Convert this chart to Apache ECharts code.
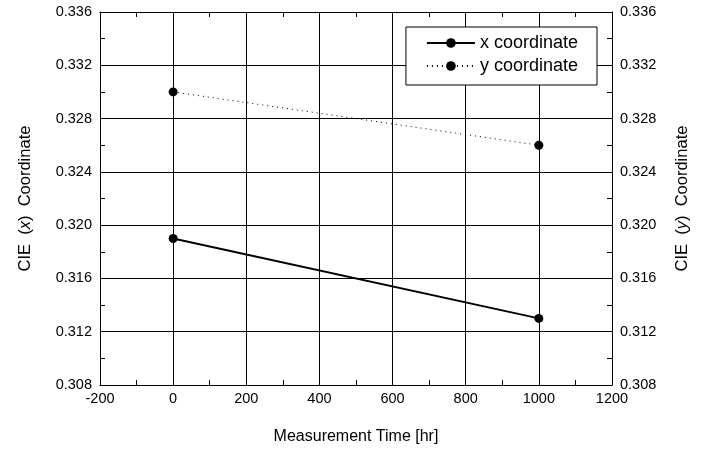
<!DOCTYPE html>
<html><head><meta charset="utf-8">
<script src="https://cdn.jsdelivr.net/npm/echarts@6/dist/echarts.min.js"></script>
<style>html,body{margin:0;padding:0;background:#fff}#c{width:705px;height:450px}</style>
</head><body><div id="c"></div>
<script>
const times = [0, 1000];
const xCoord = [0.319, 0.313];
const yCoord = [0.330, 0.326];
const xTicks = [-200, 1200, 200];
const yTicks = [0.308, 0.336, 0.004];

const font = 'Liberation Sans, Arial, sans-serif';
const chart = echarts.init(document.getElementById('c'));
const yAxisBase = {
  type: 'value', min: yTicks[0], max: yTicks[1], interval: yTicks[2],
  axisLine: {show: true, onZero: false, lineStyle: {color: '#000', width: 1}},
  axisTick: {show: true, inside: true, length: 5, lineStyle: {color: '#000'}},
  minorTick: {show: true, splitNumber: 2, length: 5, lineStyle: {color: '#000'}},
  axisLabel: {color: '#000', fontSize: 14.5, fontFamily: font, margin: 8, formatter: v => v.toFixed(3)},
  nameLocation: 'middle', nameRotate: 90,
  nameTextStyle: {color: '#000', fontSize: 16.5, fontFamily: font,
    rich: {i: {fontStyle: 'italic', fontSize: 16.5, fontFamily: font, color: '#000'}}}
};
chart.setOption({
  animation: false,
  backgroundColor: '#fff',
  grid: {left: 100, right: 93, top: 12, bottom: 65},
  legend: {
    right: 108, top: 27, orient: 'vertical', itemWidth: 48, itemHeight: 12, itemGap: 5,
    padding: [7, 19, 10, 20],
    borderColor: '#000', borderWidth: 1, backgroundColor: '#fff',
    textStyle: {color: '#000', fontSize: 18, fontFamily: font},
    data: ['x coordinate', 'y coordinate']
  },
  xAxis: [{
    type: 'value', min: xTicks[0], max: xTicks[1], interval: xTicks[2],
    name: 'Measurement Time [hr]', nameLocation: 'middle', nameGap: 44,
    nameTextStyle: {color: '#000', fontSize: 16, fontFamily: font},
    axisLine: {onZero: false, lineStyle: {color: '#000'}},
    axisTick: {inside: true, length: 5, lineStyle: {color: '#000'}},
    minorTick: {show: true, splitNumber: 2, length: 5, lineStyle: {color: '#000'}},
    splitLine: {show: true, lineStyle: {color: '#000', width: 1}},
    axisLabel: {color: '#000', fontSize: 14.5, fontFamily: font, margin: 6, formatter: v => String(v)}
  }, {
    type: 'value', position: 'top', min: xTicks[0], max: xTicks[1], interval: xTicks[2],
    axisLine: {show: true, onZero: false, lineStyle: {color: '#000'}},
    axisTick: {inside: true, length: 5, lineStyle: {color: '#000'}},
    minorTick: {show: true, splitNumber: 2, length: 5, lineStyle: {color: '#000'}},
    splitLine: {show: false}, axisLabel: {show: false}
  }],
  yAxis: [Object.assign({}, yAxisBase, {
    position: 'left', name: 'CIE  ({i|x})  Coordinate', nameGap: 66,
    splitLine: {show: true, lineStyle: {color: '#000', width: 1}}
  }), Object.assign({}, yAxisBase, {
    position: 'right', name: 'CIE  ({i|y})  Coordinate', nameGap: 62,
    splitLine: {show: false}
  })],
  series: [{
    name: 'x coordinate', type: 'line', xAxisIndex: 0, yAxisIndex: 0,
    data: times.map((t, i) => [t, xCoord[i]]),
    symbol: 'circle', symbolSize: 9,
    lineStyle: {color: '#000', width: 2},
    itemStyle: {color: '#000'}
  }, {
    name: 'y coordinate', type: 'line', xAxisIndex: 0, yAxisIndex: 1,
    data: times.map((t, i) => [t, yCoord[i]]),
    symbol: 'circle', symbolSize: 9,
    lineStyle: {color: '#000', width: 1, type: [1, 4]},
    itemStyle: {color: '#000'}
  }]
});
</script></body></html>
